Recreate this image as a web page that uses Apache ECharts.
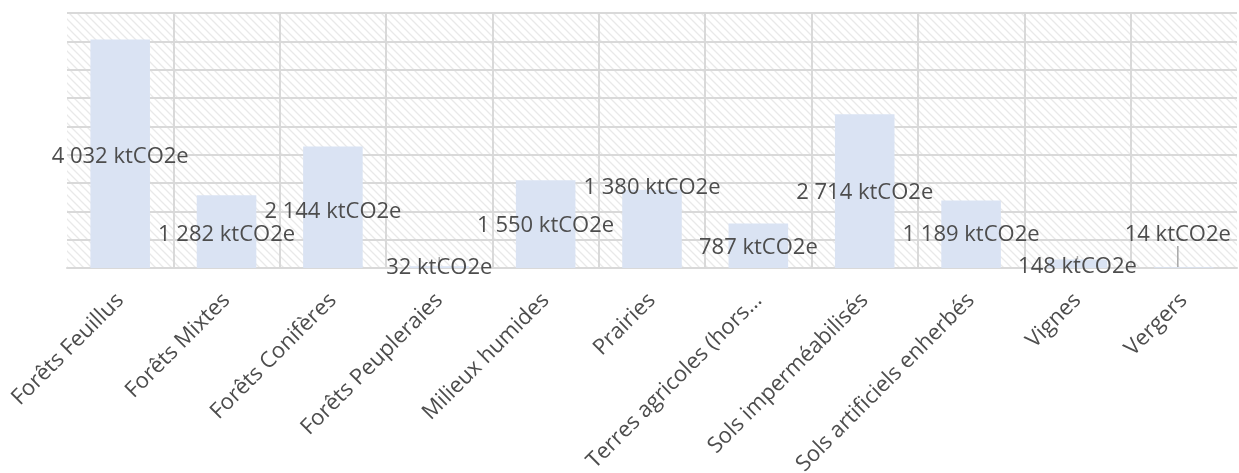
<!DOCTYPE html>
<html>
<head>
<meta charset="utf-8">
<script src="https://cdn.jsdelivr.net/npm/echarts@6/dist/echarts.min.js"></script>
<style>
html,body{margin:0;padding:0;background:#fff;}
#chart{width:1239px;height:473px;}
</style>
</head>
<body>
<div id="chart"></div>
<script>
// ---- data ----
const categories = ["Forêts Feuillus","Forêts Mixtes","Forêts Conifères","Forêts Peupleraies","Milieux humides","Prairies","Terres agricoles (hors…","Sols imperméabilisés","Sols artificiels enherbés","Vignes","Vergers"];
const values = [4032, 1282, 2144, 32, 1550, 1380, 787, 2714, 1189, 148, 14];
const unit = "ktCO2e";

// ---- layout (label vertical position in axis units, horizontal nudge in px) ----
const labelAt = [1958, 582, 988, 0, 741, 1411, 353, 1323, 582, 18, 582];
const labelNudgeX = [0, 0, 0, 0, 0, 0, 0, 0, 0, 0, -6];

function fmt(v){
  const s = String(v);
  return s.replace(/\B(?=(\d{3})+(?!\d))/g, " ");
}

// hatch pattern
const pc = document.createElement('canvas');
pc.width = 8; pc.height = 8;
const g = pc.getContext('2d');
g.fillStyle = '#ffffff'; g.fillRect(0,0,8,8);
g.strokeStyle = '#e9e9e9'; g.lineWidth = 1.3;
g.beginPath();
g.moveTo(-1,-1); g.lineTo(9,9);
g.moveTo(-5,3); g.lineTo(5,13);
g.moveTo(3,-5); g.lineTo(13,5);
g.stroke();

const chart = echarts.init(document.getElementById('chart'), null, {renderer:'canvas'});
const option = {
  animation:false,
  grid:{left:67,right:2,top:13,bottom:205,show:true,borderWidth:0,
        containLabel:false,outerBoundsMode:'none',
        backgroundColor:{image:pc,repeat:'repeat'}},
  xAxis:{type:'category',data:categories,
    axisLine:{lineStyle:{color:'#d9d9d9',width:2}},
    axisTick:{show:false},
    splitLine:{show:true,showMinLine:false,showMaxLine:false,lineStyle:{color:'#d9d9d9',width:2}},
    axisLabel:{rotate:45,margin:29,color:'#4d4d4d',fontFamily:'Open Sans',fontSize:22,interval:0,hideOverlap:false}},
  yAxis:{type:'value',min:0,max:4500,interval:500,
    axisLabel:{show:false},axisLine:{show:false},axisTick:{show:false},
    splitLine:{lineStyle:{color:'#d9d9d9',width:2}}},
  series:[{type:'bar',data:values,barWidth:'56%',
    itemStyle:{color:'#dae3f3'},
    label:{show:true,position:'top',formatter:p=>fmt(p.value)+' '+unit,
      color:'#4d4d4d',fontFamily:'Open Sans',fontSize:22},
    labelLine:{show:true,lineStyle:{color:'#a6a6a6',width:1.5}},
    labelLayout:function(p){
      const y = chart.convertToPixel({yAxisIndex:0}, labelAt[p.dataIndex]);
      return {x:p.rect.x+p.rect.width/2+labelNudgeX[p.dataIndex], y:y, align:'center', verticalAlign:'middle'};
    }
  }]
};
chart.setOption(option);
</script>
</body>
</html>
